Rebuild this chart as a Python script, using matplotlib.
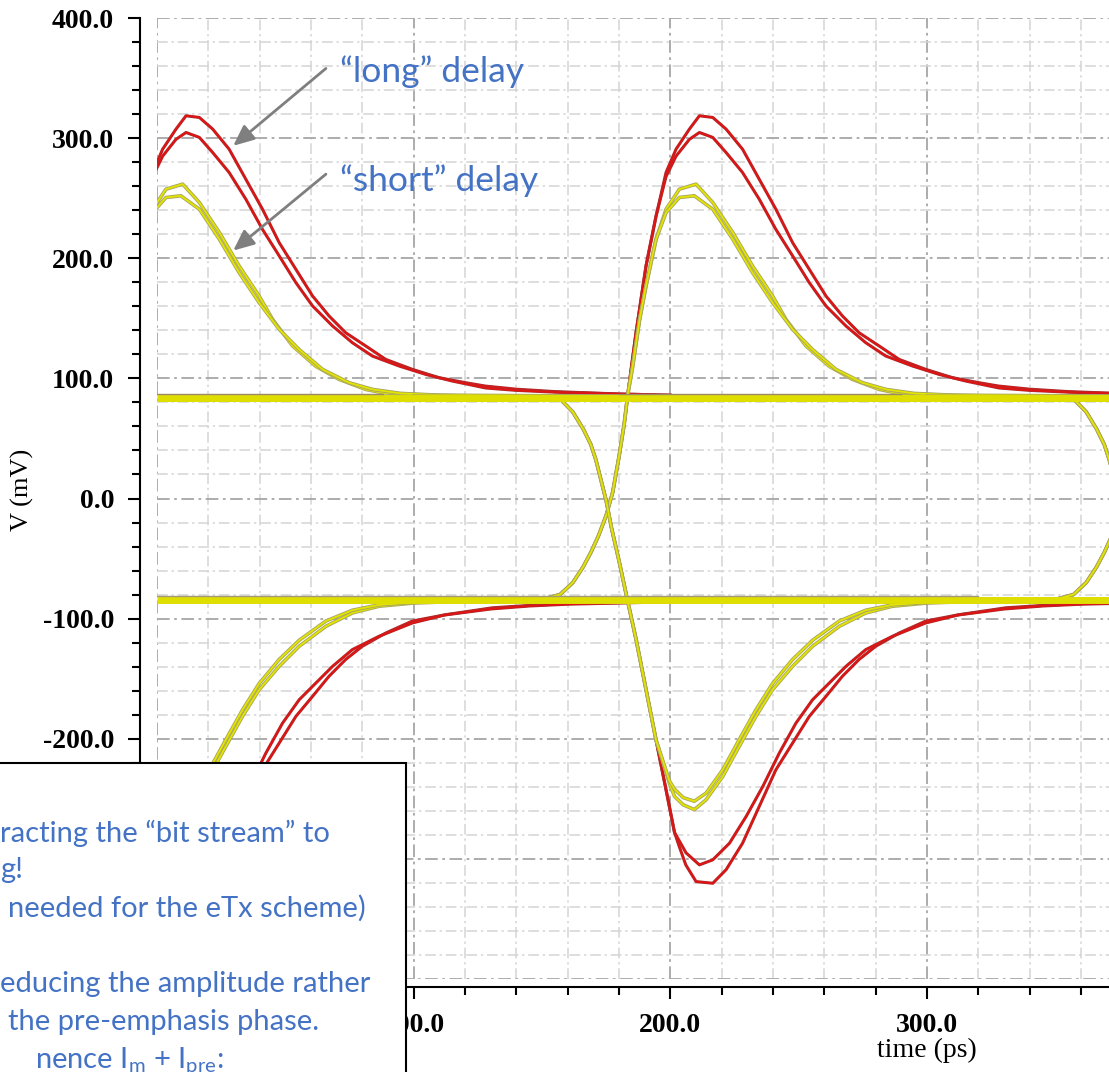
import matplotlib
matplotlib.use("Agg")
import matplotlib.pyplot as plt
import matplotlib.patheffects as pe
from matplotlib.patches import Rectangle
import numpy as np

plt.rcParams['mathtext.fontset'] = 'custom'
plt.rcParams['mathtext.rm'] = 'Lato'

W, H, DPI = 1109, 1072, 100

# eye diagram, one unit interval = 200 ps; time in ps, voltage in mV
ui_shifts = [-200, 0, 200]

# shared part of the 0 -> 1 edge
rise_edge_t = [100, 150, 157, 162, 166, 169, 172, 175, 177.5, 180, 182, 183.4]
rise_edge_v = [-85, -84, -80, -70, -57, -45, -31, -14, 5, 35, 62, 86.7]

red_hi_rise_t = [186.6, 190.5, 194.4, 198.3, 202.2, 207.4, 211.3, 216.5, 221.7, 228.1, 234.6, 241.1,
                 247.6, 254.1, 260.6, 267.0, 273.5, 281.3, 289.1, 299.5, 309.8, 320.2, 327.9, 340, 355, 380, 400]
red_hi_rise_v = [138, 193.6, 235, 271.4, 290.8, 307.5, 318.6, 317.2, 307.5, 290.8, 265.8, 240.8,
                 213, 190.8, 168.6, 152, 138, 127, 115.8, 107.5, 100.6, 96.4, 93.6, 91, 89, 87, 86]

red_lo_rise_t = [186.6, 190.5, 194.4, 198.3, 202.2, 207.4, 211.3, 216.5, 221.7, 228.1, 234.6, 241.1,
                 247.6, 254.1, 260.6, 268.4, 276.1, 283.9, 294.3, 304.7, 315.0, 328.0, 340, 355, 380, 400]
red_lo_rise_v = [138, 193.6, 235, 268, 285, 299, 304.7, 300.6, 288, 271.4, 249.2, 224,
                 202, 179.7, 160.3, 143.6, 129.7, 118.6, 110.3, 103.3, 97.8, 92, 90, 88.5, 87, 86]

yel_hi_rise_t = [185.3, 188, 190.5, 194.4, 198.3, 203.5, 210, 216.5, 224.3, 232, 239.8, 245,
                 252.8, 261.9, 270.9, 281.3, 287.8, 300, 320, 400]
yel_hi_rise_v = [110, 149, 177, 215.8, 240.8, 257.5, 261.7, 246.4, 221.4, 193.6, 168.6, 149.2,
                 127, 110, 99.2, 90.8, 88, 86.5, 85.5, 85]

yel_lo_rise_t = [185.3, 188, 190.5, 194.4, 198.3, 203.5, 209.3, 216.5, 224.3, 232, 239.8, 247.6,
                 255.4, 264.5, 274.8, 284, 295, 310, 400]
yel_lo_rise_v = [110, 149, 177, 215.8, 238, 250.6, 252, 240.8, 215.8, 188, 163, 140.8,
                 124, 107.5, 96.4, 90.8, 87.5, 86, 85]

# shared part of the 1 -> 0 edge
fall_edge_t = [100, 150, 157, 162, 166, 169, 171, 173, 175, 177, 180, 183, 186.6, 190.5, 194.4]
fall_edge_v = [85, 84, 83, 72, 58, 45, 32, 15, -2, -24, -52, -82, -117, -159, -201]

red_hi_fall_t = [198.3, 201.6, 203.5, 206, 210, 216.5, 221.7, 228.1, 234.6, 241.1, 247.6, 254.1,
                 260.6, 267, 273.5, 280, 289.1, 299.5, 312.5, 330.6, 345, 360, 400]
red_hi_fall_v = [-242.5, -278, -290, -305, -318.9, -320.3, -309, -287, -256.4, -225.8, -203.6, -181.4,
                 -164.7, -148, -134, -123, -112, -102, -96.7, -91, -89, -87.5, -86]

red_lo_fall_t = [198.3, 201.6, 206.1, 211.3, 216.5, 223, 229.5, 236, 242.4, 248.9, 255.4, 261.9,
                 268.4, 276.1, 286.5, 299.5, 312, 330, 345, 360, 400]
red_lo_fall_v = [-242.5, -278, -295, -305, -300.8, -287, -264.7, -239.7, -212, -187, -167.5, -153.6,
                 -139.7, -125.8, -114.7, -103.6, -97, -92, -89.5, -88, -86]

yel_hi_fall_t = [199.6, 201.6, 205, 209.3, 213.9, 220.4, 226.8, 233.3, 239.8, 247.6, 255.4, 265.8,
                 276.1, 286.5, 300, 320, 400]
yel_hi_fall_v = [-237, -248, -255, -259, -250.8, -231.4, -206.4, -181.4, -159.2, -139.7, -123, -106.4,
                 -95.3, -89.7, -87, -85.5, -85]

yel_lo_fall_t = [199.6, 201.6, 205, 209.3, 213.9, 220.4, 226.8, 233.3, 239.8, 247.6, 255.4, 265.8,
                 276.1, 286.5, 300, 320, 400]
yel_lo_fall_v = [-235, -242, -249, -252, -245.3, -225.8, -200.8, -176, -154, -134, -118, -102,
                 -93, -88.5, -86.5, -85.5, -85]

# steady "1" and "0" levels
level_t = [0, 400]
level_hi = [84, 84]
level_lo = [-84.5, -84.5]
edge_hi_segments = [(0, 88), (180, 290)]
edge_hi_v = 87
edge_lo_segments = [(0, 320)]
edge_lo_v = -81.5

x_ticks = [0, 100, 200, 300]
x_labels = ["", "100.0", "200.0", "300.0"]          # 0.0 sits under the text box
y_ticks = [-400, -300, -200, -100, 0, 100, 200, 300, 400]
y_labels = ["", "", "-200.0", "-100.0", "0.0", "100.0", "200.0", "300.0", "400.0"]

box_lines = [
    ("racting the \u201cbit stream\u201d to", 0, 842),
    ("g!", 0, 878),
    ("needed for the eTx scheme)", 8, 917),
    ("educing the amplitude rather", 0, 992),
    ("the pre-emphasis phase.", 8, 1030),
    (r"nence I$_\mathrm{m}$ + I$_\mathrm{pre}$:", 35, 1068),
]

RED = "#e21212"
RED_EDGE = "#a83030"
YEL = "#e4e400"
YEL_EDGE = "#a8a860"
BLUE = "#4472c4"


def px_fig(x, y):
    return x / W, 1 - y / H


fig = plt.figure(figsize=(W / DPI, H / DPI), dpi=DPI)
x_max = 380
right_px = 157 + x_max * 2.567
ax = fig.add_axes([157 / W, 1 - 979 / H, (right_px - 157) / W, (979 - 18) / H])
ax.set_xlim(0, x_max)
ax.set_ylim(-400, 400)

# grid
ax.set_axisbelow(True)
ax.set_xticks(x_ticks)
ax.set_yticks(y_ticks)
ax.set_xticks(np.arange(0, x_max + 1, 20), minor=True)
ax.set_yticks(np.arange(-400, 401, 20), minor=True)
dash = (0, (7, 2.5, 1.5, 2.5))
ax.grid(True, which="minor", color="#d4d4d4", linewidth=1.1, linestyle=dash)
ax.grid(True, which="major", color="#a6a6a6", linewidth=1.3, linestyle=dash)

# steady levels
ax.plot(level_t, level_hi, color="#dede00", lw=5, solid_capstyle="butt", zorder=3)
ax.plot(level_t, level_lo, color="#dede00", lw=5, solid_capstyle="butt", zorder=3)
for a, b in edge_hi_segments:
    ax.plot([a, b], [edge_hi_v, edge_hi_v], color="#9c8a66", lw=1, zorder=3.5)
for a, b in edge_lo_segments:
    ax.plot([a, b], [edge_lo_v, edge_lo_v], color="#a09a78", lw=1, zorder=3.5)

red_fx = [pe.Stroke(linewidth=2.2, foreground=RED_EDGE), pe.Normal()]
yel_fx = [pe.Stroke(linewidth=2.6, foreground=YEL_EDGE), pe.Normal()]

traces = [
    (rise_edge_t + red_hi_rise_t, rise_edge_v + red_hi_rise_v, RED, red_fx, 2),
    (rise_edge_t + red_lo_rise_t, rise_edge_v + red_lo_rise_v, RED, red_fx, 2),
    (fall_edge_t + red_hi_fall_t, fall_edge_v + red_hi_fall_v, RED, red_fx, 2),
    (fall_edge_t + red_lo_fall_t, fall_edge_v + red_lo_fall_v, RED, red_fx, 2),
    (rise_edge_t + yel_hi_rise_t, rise_edge_v + yel_hi_rise_v, YEL, yel_fx, 2.5),
    (rise_edge_t + yel_lo_rise_t, rise_edge_v + yel_lo_rise_v, YEL, yel_fx, 2.5),
    (fall_edge_t + yel_hi_fall_t, fall_edge_v + yel_hi_fall_v, YEL, yel_fx, 2.5),
    (fall_edge_t + yel_lo_fall_t, fall_edge_v + yel_lo_fall_v, YEL, yel_fx, 2.5),
]
for t, v, c, fx, z in traces:
    t = np.array(t)
    for s in ui_shifts:
        ax.plot(t + s, v, color=c, lw=1.3, path_effects=fx, zorder=z)

# axes look
for side in ("top", "right"):
    ax.spines[side].set_visible(False)
ax.spines["left"].set_position(("outward", 12.2))
ax.spines["bottom"].set_position(("outward", 5.8))
for side in ("left", "bottom"):
    ax.spines[side].set_linewidth(1.5)
ax.tick_params(which="major", direction="out", length=8.6, width=1.5, pad=10,
               labelsize=20, colors="black")
ax.tick_params(which="minor", direction="out", length=5.8, width=1.5)
ax.set_xticklabels(x_labels, family="Liberation Serif", weight="bold")
ax.set_yticklabels(y_labels, family="Liberation Serif", weight="bold")

fig.text(*px_fig(22, 490), "V (mV)", rotation=90, ha="center", va="center",
         fontsize=19, family="Liberation Serif")
fig.text(*px_fig(927, 1050), "time (ps)", ha="center", va="center",
         fontsize=20, family="Liberation Serif")

# annotations
arrow = dict(arrowstyle="-|>,head_length=0.9,head_width=0.4", color="#7f7f7f", lw=2,
             mutation_scale=14, shrinkA=0, shrinkB=0)
ax.annotate("", xy=(29.7, 293.6), xytext=(65.8, 358), arrowprops=arrow, zorder=6)
ax.annotate("", xy=(29.7, 206.4), xytext=(65.8, 270), arrowprops=arrow, zorder=6)
ax.text(71.3, 346.7, "\u201clong\u201d delay", color=BLUE, fontsize=25.5,
        family=["Lato", "DejaVu Sans"], va="baseline", zorder=6)
ax.text(71.3, 256, "\u201cshort\u201d delay", color=BLUE, fontsize=25.5,
        family=["Lato", "DejaVu Sans"], va="baseline", zorder=6)

# overlaid text box
bx, by = px_fig(-5, 1085)
fig.add_artist(Rectangle((bx, by), 411 / W, (1085 - 763) / H, transform=fig.transFigure,
                         facecolor="white", edgecolor="black", lw=1.5, zorder=10))
for s, x, y in box_lines:
    fig.text(*px_fig(x, y), s, color=BLUE, fontsize=21, family=["Lato", "DejaVu Sans"],
             va="baseline", ha="left", zorder=11)

fig.savefig("out.png", dpi=DPI)
